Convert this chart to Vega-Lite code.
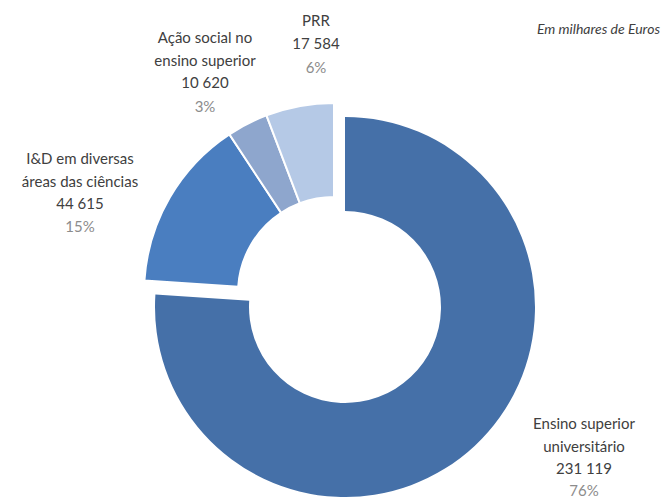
{
  "$schema": "https://vega.github.io/schema/vega-lite/v6.json",
  "autosize": "none",
  "width": 658,
  "height": 408,
  "padding": {"left": 5, "top": 89, "right": 0, "bottom": 0},
  "background": "white",
  "config": {
    "view": {"stroke": null},
    "locale": {"number": {"decimal": ",", "thousands": " ", "grouping": [3], "currency": ["", " €"]}},
    "text": {"font": "Lato", "fontSize": 15, "lineHeight": 22.5, "align": "center"}
  },
  "data": {"values": [
    {"key": "ens", "name": "Ensino superior\nuniversitário", "value": 231119, "ord": 1},
    {"key": "id", "name": "I&D em diversas\náreas das ciências", "value": 44615, "ord": 2},
    {"key": "acao", "name": "Ação social no\nensino superior", "value": 10620, "ord": 3},
    {"key": "prr", "name": "PRR", "value": 17584, "ord": 4}
  ]},
  "transform": [
    {"joinaggregate": [{"op": "sum", "field": "value", "as": "total"}]},
    {"calculate": "datum.value / datum.total", "as": "pct"},
    {"calculate": "datum.name + '\\n' + format(datum.value, ',d')", "as": "lab"}
  ],
  "layer": [
    {
      "mark": {"type": "arc", "outerRadius": 190, "innerRadius": 96, "stroke": "white", "strokeWidth": 2},
      "encoding": {
        "theta": {"field": "value", "type": "quantitative", "stack": true},
        "order": {"field": "ord", "type": "quantitative"},
        "color": {"field": "key", "type": "nominal", "legend": null,
          "scale": {"domain": ["ens", "id", "acao", "prr"], "range": ["#4570a8", "#4a7ec0", "#8ea6cd", "#b5c9e6"]}},
        "opacity": {"condition": {"test": "datum.key === 'ens'", "value": 0}, "value": 1}
      }
    },
    {
      "mark": {"type": "arc", "outerRadius": 190, "innerRadius": 96, "xOffset": 11, "yOffset": 14},
      "encoding": {
        "theta": {"field": "value", "type": "quantitative", "stack": true},
        "order": {"field": "ord", "type": "quantitative"},
        "color": {"field": "key", "type": "nominal", "legend": null},
        "opacity": {"condition": {"test": "datum.key === 'ens'", "value": 1}, "value": 0}
      }
    },
    {
      "transform": [{"filter": "datum.key === 'ens'"}],
      "mark": {"type": "text", "align": "right", "baseline": "middle", "fontStyle": "italic", "fontSize": 14, "dx": 326, "dy": -263, "color": "#404040"},
      "encoding": {"text": {"value": "Em milhares de Euros"}}
    },
    {
      "transform": [{"filter": "datum.key === 'prr'"}],
      "layer": [
        {"mark": {"type": "text", "lineBreak": "\n", "baseline": "top", "dx": -18, "dy": -279, "color": "#404040"}, "encoding": {"text": {"field": "lab"}}},
        {"mark": {"type": "text", "baseline": "top", "dx": -18, "dy": -232, "color": "#8c8c8c"}, "encoding": {"text": {"field": "pct", "format": ".0%"}}}
      ]
    },
    {
      "transform": [{"filter": "datum.key === 'acao'"}],
      "layer": [
        {"mark": {"type": "text", "lineBreak": "\n", "baseline": "top", "dx": -129, "dy": -262, "color": "#404040"}, "encoding": {"text": {"field": "lab"}}},
        {"mark": {"type": "text", "baseline": "top", "dx": -129, "dy": -193, "color": "#8c8c8c"}, "encoding": {"text": {"field": "pct", "format": ".0%"}}}
      ]
    },
    {
      "transform": [{"filter": "datum.key === 'id'"}],
      "layer": [
        {"mark": {"type": "text", "lineBreak": "\n", "baseline": "top", "dx": -254, "dy": -141, "color": "#404040"}, "encoding": {"text": {"field": "lab"}}},
        {"mark": {"type": "text", "baseline": "top", "dx": -254, "dy": -73, "color": "#8c8c8c"}, "encoding": {"text": {"field": "pct", "format": ".0%"}}}
      ]
    },
    {
      "transform": [{"filter": "datum.key === 'ens'"}],
      "layer": [
        {"mark": {"type": "text", "lineBreak": "\n", "baseline": "top", "dx": 250, "dy": 124, "color": "#404040"}, "encoding": {"text": {"field": "lab"}}},
        {"mark": {"type": "text", "baseline": "top", "dx": 250, "dy": 191, "color": "#8c8c8c"}, "encoding": {"text": {"field": "pct", "format": ".0%"}}}
      ]
    }
  ]
}
